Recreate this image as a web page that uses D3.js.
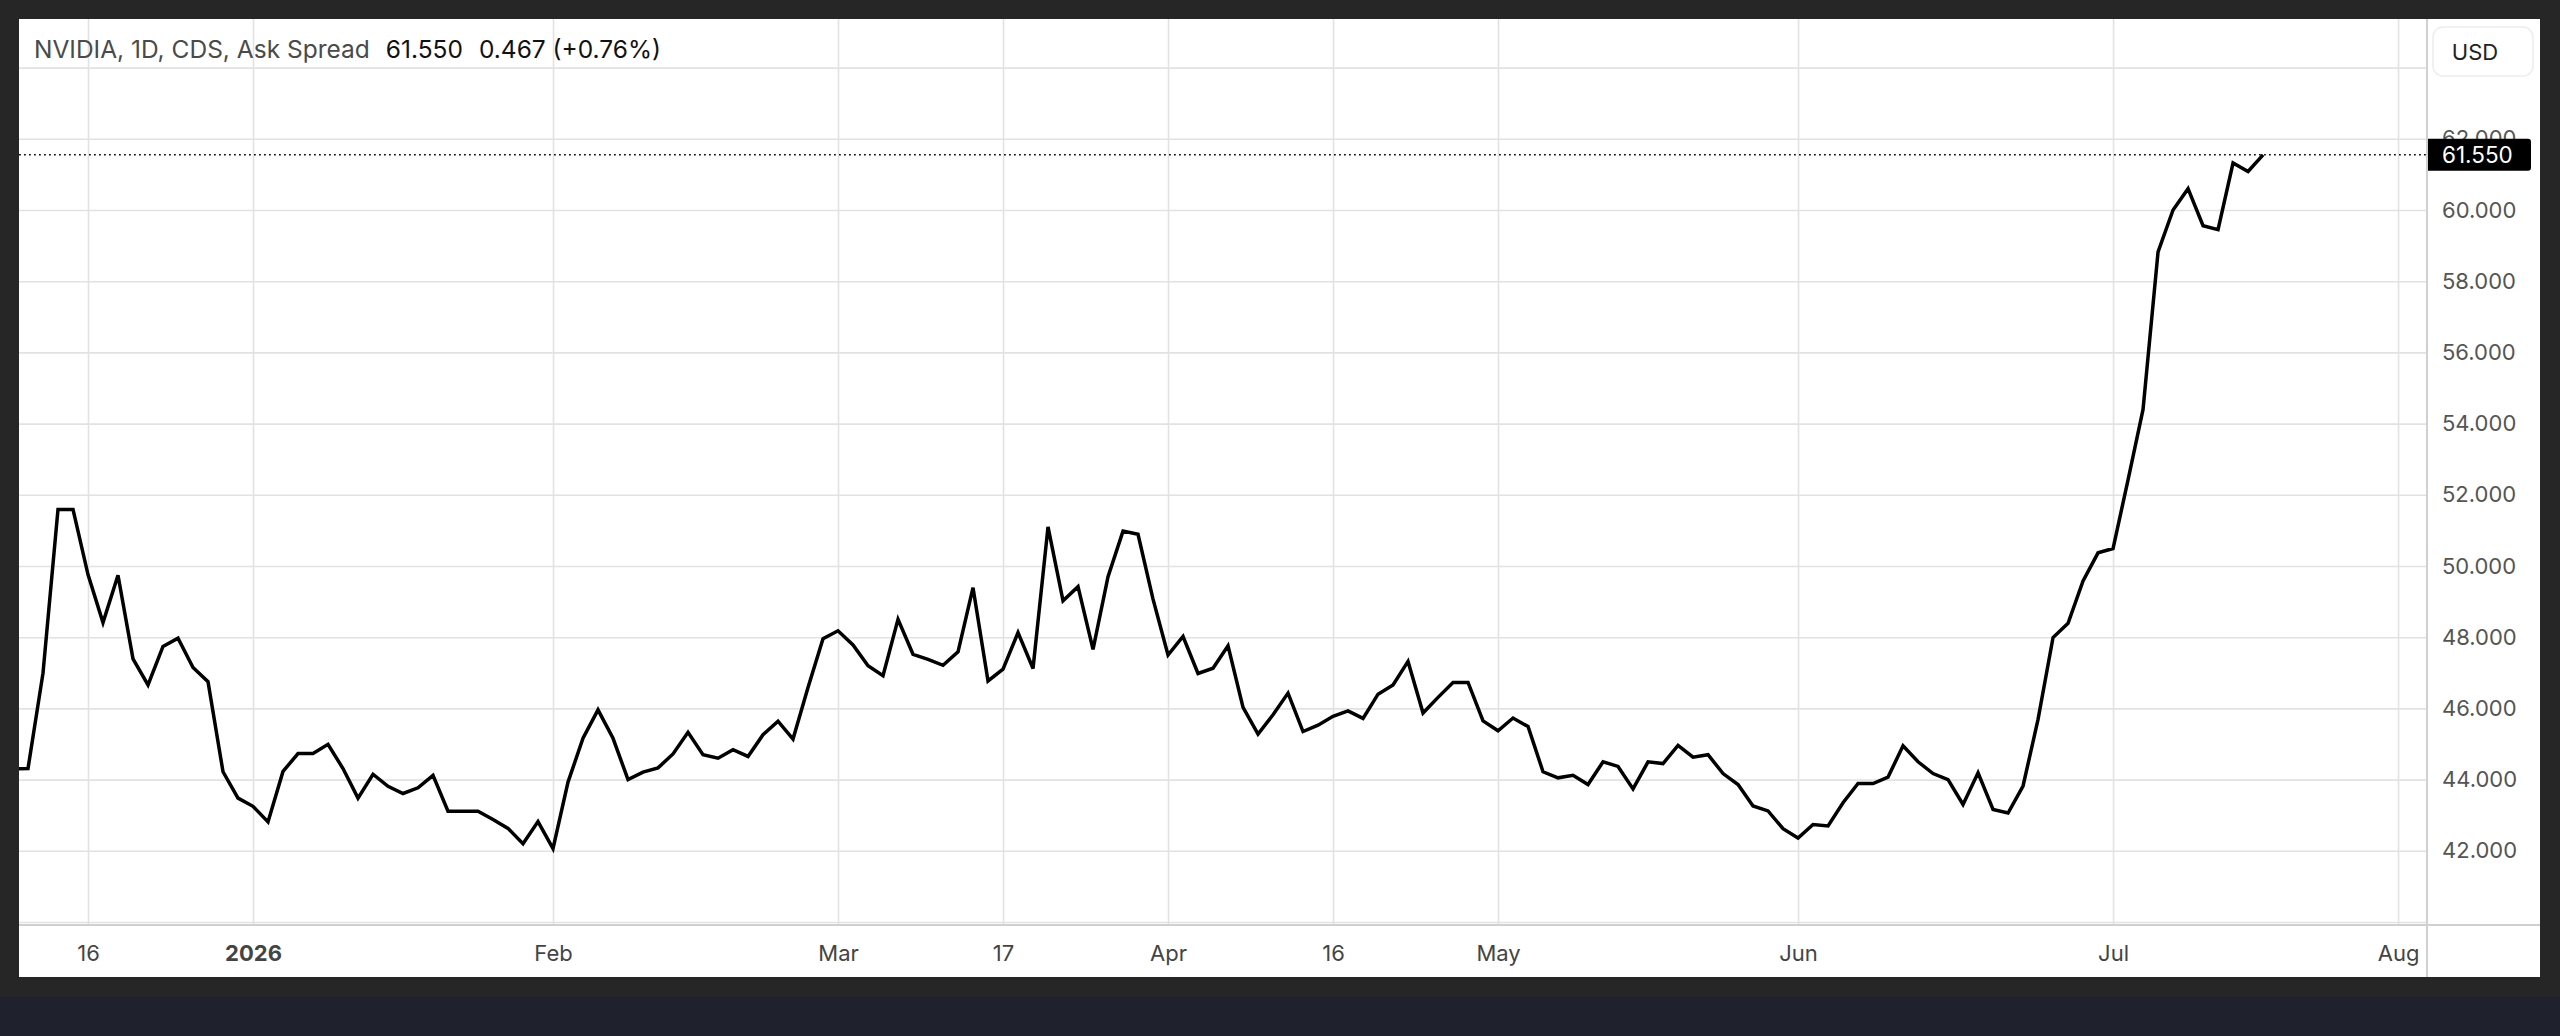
<!DOCTYPE html>
<html>
<head>
<meta charset="utf-8">
<script src="https://cdn.jsdelivr.net/npm/d3@7/dist/d3.min.js"></script>
<style>
  html, body { margin: 0; padding: 0; background: #1f222d; }
  svg { display: block; }
  text { font-family: Inter, "Noto Sans", sans-serif; }
</style>
</head>
<body>
<svg id="chart" width="2560" height="1036"></svg>
<script>
// NVIDIA 1D CDS ask spread, one value per trading day (bar 0 = 9 Dec 2025)
const askSpread = [
	44.30, 44.31, 46.99, 51.59, 51.59, 49.76, 48.41, 49.74, 47.39, 46.66,
	47.74, 47.97, 47.15, 46.75, 44.22, 43.48, 43.25, 42.81, 44.23, 44.73,
	44.73, 44.99, 44.31, 43.48, 44.15, 43.81, 43.61, 43.77, 44.12, 43.11,
	43.11, 43.11, 42.88, 42.63, 42.20, 42.82, 42.06, 43.93, 45.16, 45.96,
	45.16, 44.00, 44.21, 44.33, 44.72, 45.33, 44.70, 44.60, 44.84, 44.65,
	45.26, 45.64, 45.14, 46.59, 47.96, 48.18, 47.78, 47.20, 46.92, 48.50,
	47.52, 47.38, 47.21, 47.59, 49.39, 46.77, 47.10, 48.13, 47.12, 51.10,
	49.02, 49.42, 47.66, 49.70, 50.98, 50.89, 49.07, 47.50, 48.02, 46.98,
	47.13, 47.76, 46.03, 45.28, 45.82, 46.43, 45.35, 45.53, 45.78, 45.93,
	45.72, 46.40, 46.66, 47.32, 45.87, 46.31, 46.73, 46.73, 45.65, 45.37,
	45.73, 45.49, 44.22, 44.05, 44.12, 43.86, 44.50, 44.37, 43.74, 44.50,
	44.45, 44.96, 44.63, 44.70, 44.17, 43.86, 43.26, 43.12, 42.62, 42.36,
	42.74, 42.70, 43.35, 43.89, 43.89, 44.07, 44.95, 44.50, 44.17, 44.00,
	43.30, 44.19, 43.16, 43.06, 43.82, 45.69, 47.99, 48.39, 49.58, 50.37,
	50.49, 52.42, 54.40, 58.82, 60.00, 60.60, 59.56, 59.45, 61.32, 61.083,
	61.55
]

// time axis: label and the bar it sits on
const tickLabels = ['16', '2026', 'Feb', 'Mar', '17', 'Apr', '16', 'May', 'Jun', 'Jul', 'Aug']
const tickBars = [5, 16, 36, 55, 66, 77, 88, 99, 119, 140, 159]
const boldTicks = ['2026']

// price axis
const priceLabels = [42, 44, 46, 48, 50, 52, 54, 56, 58, 60, 62]
const priceGrid = [40, 42, 44, 46, 48, 50, 52, 54, 56, 58, 60, 62, 64]

const titleText = 'NVIDIA, 1D, CDS, Ask Spread'
const currency = 'USD'

// layout
const W = 2560, H = 1036
const panel = { left: 19, top: 19, right: 2540, bottom: 977 }
const plot = { left: 19, top: 19, right: 2427, bottom: 925 }

const svg = d3.select('#chart')

// frame
svg.append('rect').attr('width', W).attr('height', 997).attr('fill', '#262626')
svg.append('rect')
	.attr('x', panel.left).attr('y', panel.top)
	.attr('width', panel.right - panel.left).attr('height', panel.bottom - panel.top)
	.attr('fill', '#ffffff')

// scales: 15px per bar
const x = d3.scaleLinear().domain([0.4, 160.93]).range([plot.left, plot.right])
const y = d3.scaleLinear().domain([40, 64]).range([922, 67.6])

// clip for plot contents
svg.append('clipPath').attr('id', 'plotClip')
	.append('rect')
	.attr('x', plot.left).attr('y', plot.top)
	.attr('width', plot.right - plot.left).attr('height', plot.bottom - plot.top)

const plotG = svg.append('g').attr('clip-path', 'url(#plotClip)')

// grid
plotG.append('g')
	.attr('transform', `translate(0,${plot.bottom})`)
	.call(d3.axisBottom(x).tickValues(tickBars).tickSize(-(plot.bottom - plot.top)).tickFormat(''))
	.call(g => g.select('.domain').remove())
	.call(g => g.selectAll('line').attr('stroke', '#e2e2e2').attr('stroke-width', 1.6))

plotG.append('g')
	.attr('transform', `translate(${plot.left},0)`)
	.call(d3.axisLeft(y).tickValues(priceGrid).tickSize(-(plot.right - plot.left)).tickFormat(''))
	.call(g => g.select('.domain').remove())
	.call(g => g.selectAll('line').attr('stroke', '#e2e2e2').attr('stroke-width', 1.6))

// last price dotted line
const lastVal = askSpread[askSpread.length - 1]
const prevVal = askSpread[askSpread.length - 2]
plotG.append('line')
	.attr('x1', plot.left).attr('x2', plot.right)
	.attr('y1', y(lastVal)).attr('y2', y(lastVal))
	.attr('stroke', '#111')
	.attr('stroke-width', 1.6)
	.attr('stroke-dasharray', '1.8,3.2')

// series
const line = d3.line()
	.x((d, i) => x(i))
	.y(d => y(d))

plotG.append('path')
	.datum(askSpread)
	.attr('fill', 'none')
	.attr('stroke', '#000')
	.attr('stroke-width', 3.5)
	.attr('stroke-linejoin', 'miter')
	.attr('d', line)

// plot borders
svg.append('line')
	.attr('x1', panel.left).attr('x2', panel.right)
	.attr('y1', plot.bottom).attr('y2', plot.bottom)
	.attr('stroke', '#d0d0d0').attr('stroke-width', 2)
svg.append('line')
	.attr('x1', plot.right).attr('x2', plot.right)
	.attr('y1', panel.top).attr('y2', panel.bottom)
	.attr('stroke', '#d0d0d0').attr('stroke-width', 2)

// time axis labels
svg.append('g')
	.attr('transform', `translate(0,${plot.bottom})`)
	.call(d3.axisBottom(x).tickValues(tickBars).tickSize(0).tickPadding(20)
		.tickFormat((d, i) => tickLabels[i]))
	.call(g => g.select('.domain').remove())
	.call(g => g.selectAll('text')
		.attr('fill', '#444')
		.style('font-size', '22px')
		.style('font-weight', (d, i) => boldTicks.includes(tickLabels[i]) ? 700 : 400))

// price axis labels (62.000 sits under the last-price badge, as in the source)
svg.append('g')
	.attr('transform', `translate(2442,0)`)
	.call(d3.axisRight(y).tickValues(priceLabels).tickSize(0).tickPadding(0)
		.tickFormat(d3.format('.3f')))
	.call(g => g.select('.domain').remove())
	.call(g => g.selectAll('text')
		.attr('fill', '#555')
		.style('font-size', '22px'))

// last price badge
const badge = svg.append('g').attr('transform', `translate(${plot.right + 1},${y(lastVal)})`)
badge.append('path')
	.attr('d', 'M0,-16 H100 Q103,-16 103,-13 V13 Q103,16 100,16 H0 Z')
	.attr('fill', '#000')
badge.append('text')
	.attr('x', 14).attr('y', 0).attr('dy', '0.35em')
	.attr('fill', '#fff')
	.style('font-size', '22.5px')
	.text(d3.format('.3f')(lastVal))

// currency box
const cur = svg.append('g').attr('transform', 'translate(2433,27)')
cur.append('rect')
	.attr('width', 100).attr('height', 49).attr('rx', 10)
	.attr('fill', '#fff').attr('stroke', '#ededed').attr('stroke-width', 1.5)
cur.append('text')
	.attr('x', 42).attr('y', 25).attr('dy', '0.35em')
	.attr('text-anchor', 'middle')
	.attr('fill', '#222')
	.style('font-size', '22px')
	.text(currency)

// header legend
const change = lastVal - prevVal
const pct = change / prevVal * 100
const header = svg.append('text')
	.attr('x', 34).attr('y', 58)
	.style('font-size', '24.5px')
header.append('tspan').attr('fill', '#4a4a4a').text(titleText)
header.append('tspan').attr('fill', '#111').attr('dx', 16).text(d3.format('.3f')(lastVal))
header.append('tspan').attr('fill', '#111').attr('dx', 16)
	.text(`${d3.format('.3f')(change)} (${change >= 0 ? '+' : ''}${pct.toFixed(2)}%)`)
</script>
</body>
</html>
